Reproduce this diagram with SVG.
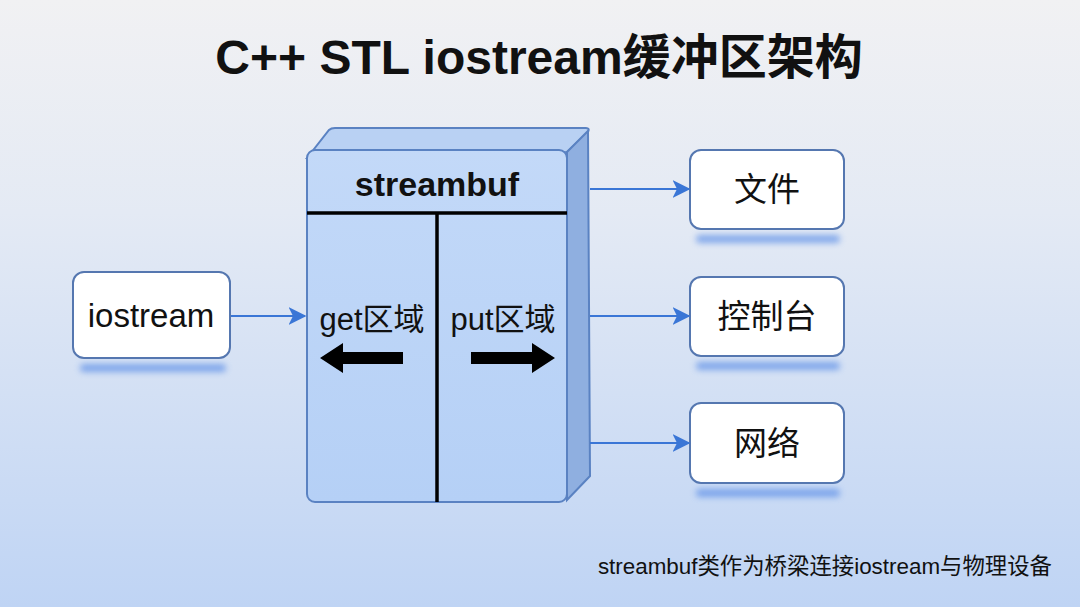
<svg xmlns="http://www.w3.org/2000/svg" width="1080" height="607" viewBox="0 0 1080 607">
<defs>
<linearGradient id="bg" x1="0" y1="0" x2="0" y2="1">
<stop offset="0" stop-color="#f1f1f3"/>
<stop offset="0.35" stop-color="#e4eaf4"/>
<stop offset="1" stop-color="#bfd4f4"/>
</linearGradient>
<linearGradient id="front" x1="0" y1="0" x2="0" y2="1">
<stop offset="0" stop-color="#c3d9f8"/>
<stop offset="1" stop-color="#b5d0f6"/>
</linearGradient>
<filter id="blur" x="-20%" y="-200%" width="140%" height="500%">
<feGaussianBlur stdDeviation="3"/>
</filter>
<marker id="arr" viewBox="0 0 12 12" refX="11" refY="6" markerWidth="18" markerHeight="18" orient="auto" markerUnits="userSpaceOnUse">
<path d="M0,0 L12,6 L0,12 L3,6 Z" fill="#3a76d6"/>
</marker>
</defs>
<style>
.t{font-family:"Liberation Sans","Noto Sans CJK SC",sans-serif;fill:#111}
.box{fill:#ffffff;stroke:#5577b0;stroke-width:2}
.shadow{fill:#4f86e6;opacity:0.65;filter:url(#blur)}
.conn{stroke:#3a76d6;stroke-width:2;fill:none}
.lbl{font-size:33px;text-anchor:middle}
</style>
<rect width="1080" height="607" fill="url(#bg)"/>
<text class="t" x="539" y="74" font-size="48" font-weight="bold" text-anchor="middle">C++ STL iostream缓冲区架构</text>

<g id="streambuf">
<path d="M307,158 L329,130 Q331,128 335,128 L586,128 Q590,128 588,132 L567,152 Z" fill="#b9d1f3" stroke="#5a82c2" stroke-width="2"/>
<path d="M567,152 L588,131 L590,476 L567,500 Z" fill="#8fafe0" stroke="#5a82c2" stroke-width="2"/>
<rect x="307" y="150" width="260" height="352" rx="8" fill="url(#front)" stroke="#5a82c2" stroke-width="2"/>
<text class="t" x="437" y="196" font-size="34" font-weight="bold" text-anchor="middle">streambuf</text>
<line x1="307" y1="213" x2="567" y2="213" stroke="#000" stroke-width="3.5"/>
<line x1="437" y1="213" x2="437" y2="502" stroke="#000" stroke-width="3.5"/>
<text class="t" x="372" y="330" font-size="31" text-anchor="middle">get区域</text>
<text class="t" x="503" y="330" font-size="31" text-anchor="middle">put区域</text>
<path d="M320,358 L343,343 L343,352 L403,352 L403,364 L343,364 L343,373 Z" fill="#000"/>
<path d="M555,358 L532,343 L532,352 L471,352 L471,364 L532,364 L532,373 Z" fill="#000"/>
</g>

<g id="iostream">
<rect class="shadow" x="80" y="364" width="146" height="8" rx="4"/>
<rect class="box" x="73" y="272" width="157" height="86" rx="11"/>
<text class="t lbl" x="151" y="327">iostream</text>
</g>

<g id="file">
<rect class="shadow" x="696" y="235" width="144" height="8" rx="4"/>
<rect class="box" x="690" y="150" width="154" height="79" rx="11"/>
<text class="t lbl" x="767" y="201">文件</text>
</g>

<g id="console">
<rect class="shadow" x="696" y="362" width="144" height="8" rx="4"/>
<rect class="box" x="690" y="277" width="154" height="79" rx="11"/>
<text class="t lbl" x="767" y="328">控制台</text>
</g>

<g id="network">
<rect class="shadow" x="696" y="489" width="144" height="8" rx="4"/>
<rect class="box" x="690" y="403" width="154" height="80" rx="11"/>
<text class="t lbl" x="767" y="455">网络</text>
</g>

<g id="connectors">
<line class="conn" x1="231" y1="316" x2="305" y2="316" marker-end="url(#arr)"/>
<line class="conn" x1="590" y1="189" x2="689" y2="189" marker-end="url(#arr)"/>
<line class="conn" x1="590" y1="316" x2="689" y2="316" marker-end="url(#arr)"/>
<line class="conn" x1="590" y1="443" x2="689" y2="443" marker-end="url(#arr)"/>
</g>

<text class="t" x="1052" y="574" font-size="22.4" text-anchor="end">streambuf类作为桥梁连接iostream与物理设备</text>
</svg>
